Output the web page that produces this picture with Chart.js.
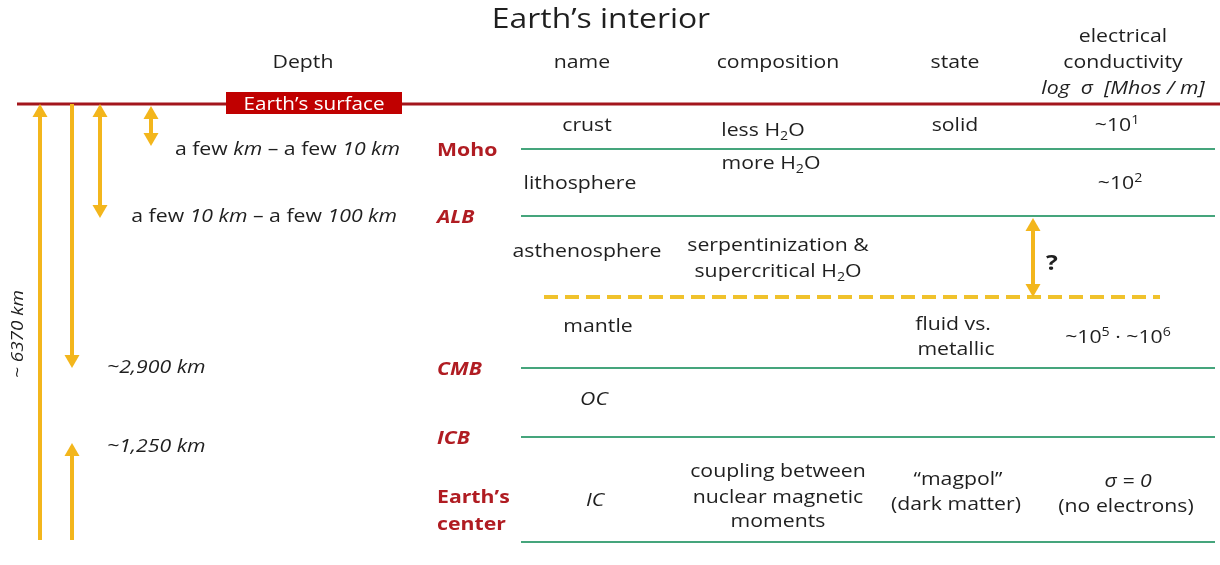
<!DOCTYPE html>
<html>
<head>
<meta charset="utf-8">
<title>Earth's interior</title>
<script src="https://cdn.jsdelivr.net/npm/chart.js@4"></script>
<style>
  body { margin: 0; background: #fff; }
  #wrap { width: 1220px; height: 565px; position: relative; }
</style>
</head>
<body>
<div id="wrap"><canvas id="myChart"></canvas></div>
<script>
// depth rows of the diagram (0 = top of picture, 565 = bottom)
const surfaceLevel = 104;
const boundaryNames = ['Moho', 'ALB', 'CMB', 'ICB', 'Earth\u2019s|center'];
const boundaryLevels = [149, 216, 368, 437, 542];
const boundaryItalic = [false, true, true, true, false];
const transitionLevel = 297; // uncertain boundary (dashed)

const headers = ['Depth', 'name', 'composition', 'state'];
const headerX = [303, 582, 778, 955];
const condHeader = ['electrical', 'conductivity', '*log  σ  [Mhos / m]*'];
const condHeaderLevels = [36, 62, 88];

const layerNames = ['crust', 'lithosphere', 'asthenosphere', 'mantle', '*OC*', '*IC*'];
const layerX = [587, 580, 587, 598, 594, 595];
const layerLevels = [125, 183, 251, 326, 399, 500];

const compLines = ['less H_{2}O', 'more H_{2}O', 'serpentinization &', 'supercritical H_{2}O',
  'coupling between', 'nuclear magnetic', 'moments'];
const compX = [763, 771, 778, 778, 778, 778, 778];
const compLevels = [130, 163, 245, 271, 471, 497, 521];

const stateLines = ['solid', 'fluid vs.', 'metallic', '\u201cmagpol\u201d', '(dark matter)'];
const stateX = [955, 953, 956, 958, 956];
const stateLevels = [125, 324, 349, 479, 504];

const condLines = ['~10^{1}', '~10^{2}', '~10^{5} \u00b7 ~10^{6}', '*σ = 0*', '(no electrons)'];
const condX = [1117, 1120, 1118, 1128, 1126];
const condLevels = [125, 183, 337, 481, 506];

const depthLabels = ['a few *km* \u2013 a few *10 km*', 'a few *10 km* \u2013 a few *100 km*',
  '*~2,900 km*', '*~1,250 km*'];
const depthLabelX = [400, 397, 107, 107];
const depthLabelAlign = ['right', 'right', 'left', 'left'];
const depthLabelLevels = [149, 216, 367, 446];

// depth arrows: x, from, to, heads
const arrowX = [40, 72, 100, 151, 72, 1033];
const arrowFrom = [540, 104, 104, 106, 540, 218];
const arrowTo = [104, 368, 218, 146, 443, 297];
const arrowBoth = [false, false, true, true, false, true];

const FONT = '"Open Sans", sans-serif';
const STRETCH = 1.18; // the lettering of the original is wide
const RED = '#b01c22';
const GREEN = '#45a57c';
const YELLOW = '#f3b61c';
const TEXT = '#1f1f1f';

const lineStart = 521;
const lineEnd = 1215;

const parseRich = (str) => {
  const parts = [];
  let italic = false;
  let buf = '';
  let i = 0;
  const push = () => {
    if (buf) parts.push({ t: buf, italic, mode: 'normal' });
    buf = '';
  };
  while (i < str.length) {
    const c = str[i];
    if (c === '*') {
      push();
      italic = !italic;
      i++;
    } else if ((c === '_' || c === '^') && str[i + 1] === '{') {
      push();
      const end = str.indexOf('}', i);
      parts.push({ t: str.slice(i + 2, end), italic, mode: c === '_' ? 'sub' : 'sup' });
      i = end + 1;
    } else {
      buf += c;
      i++;
    }
  }
  push();
  return parts;
};

const drawRich = (ctx, str, x, y, opts = {}) => {
  const { size = 18, align = 'center', color = TEXT, bold = false, italic = false } = opts;
  const parts = parseRich(str);
  const fontFor = (p) => {
    const s = p.mode === 'normal' ? size : Math.round(size * 0.66);
    return `${p.italic !== italic ? 'italic ' : ''}${bold ? 'bold ' : ''}${s}px ${FONT}`;
  };
  let total = 0;
  parts.forEach((p) => {
    ctx.font = fontFor(p);
    p.w = ctx.measureText(p.t).width * STRETCH;
    total += p.w;
  });
  let cx = align === 'center' ? x - total / 2 : align === 'right' ? x - total : x;
  const base = y + size * 0.36;
  ctx.fillStyle = color;
  ctx.textAlign = 'left';
  ctx.textBaseline = 'alphabetic';
  parts.forEach((p) => {
    ctx.font = fontFor(p);
    let by = base;
    if (p.mode === 'sub') by = base + size * 0.22;
    if (p.mode === 'sup') by = base - size * 0.4;
    ctx.save();
    ctx.translate(cx, by);
    ctx.scale(STRETCH, 1);
    ctx.fillText(p.t, 0, 0);
    ctx.restore();
    cx += p.w;
  });
};

const drawHead = (ctx, x, tipY, dir) => {
  // dir = -1 pointing up, 1 pointing down
  ctx.beginPath();
  ctx.moveTo(x, tipY);
  ctx.lineTo(x - 7.5, tipY - dir * 13);
  ctx.lineTo(x + 7.5, tipY - dir * 13);
  ctx.closePath();
  ctx.fill();
};

const diagramText = {
  id: 'diagramText',
  afterDatasetsDraw(chart) {
    const { ctx } = chart;
    const { x, y } = chart.scales;
    ctx.save();

    // arrows
    ctx.fillStyle = YELLOW;
    ctx.strokeStyle = YELLOW;
    ctx.lineWidth = 4;
    arrowX.forEach((ax, i) => {
      const px = x.getPixelForValue(ax);
      const p0 = y.getPixelForValue(arrowFrom[i]);
      const p1 = y.getPixelForValue(arrowTo[i]);
      const dir = p1 > p0 ? 1 : -1;
      ctx.beginPath();
      ctx.moveTo(px, arrowBoth[i] ? p0 + dir * 10 : p0);
      ctx.lineTo(px, p1 - dir * 10);
      ctx.stroke();
      drawHead(ctx, px, p1, dir);
      if (arrowBoth[i]) drawHead(ctx, px, p0, -dir);
    });

    // title and headers
    drawRich(ctx, 'Earth\u2019s interior', x.getPixelForValue(601), y.getPixelForValue(18), { size: 27 });
    headers.forEach((h, i) => {
      drawRich(ctx, h, x.getPixelForValue(headerX[i]), y.getPixelForValue(62), { size: 18 });
    });
    condHeader.forEach((h, i) => {
      drawRich(ctx, h, x.getPixelForValue(1123), y.getPixelForValue(condHeaderLevels[i]), { size: 18 });
    });

    // surface box
    const bx0 = x.getPixelForValue(226);
    const bx1 = x.getPixelForValue(402);
    const by0 = y.getPixelForValue(surfaceLevel - 12);
    const by1 = y.getPixelForValue(surfaceLevel + 10);
    ctx.fillStyle = '#c00000';
    ctx.fillRect(bx0, by0, bx1 - bx0, by1 - by0);
    drawRich(ctx, 'Earth\u2019s surface', (bx0 + bx1) / 2, y.getPixelForValue(surfaceLevel), { size: 17.5, color: '#fff' });

    // boundary names
    boundaryNames.forEach((b, i) => {
      const lines = b.split('|');
      lines.forEach((l, j) => {
        const ly = lines.length > 1 ? boundaryLevels[i] - 45 + j * 27 : boundaryLevels[i] + 1;
        drawRich(ctx, l, x.getPixelForValue(437), y.getPixelForValue(ly), {
          size: 18, align: 'left', color: RED, bold: true, italic: boundaryItalic[i],
        });
      });
    });

    depthLabels.forEach((d, i) => {
      drawRich(ctx, d, x.getPixelForValue(depthLabelX[i]), y.getPixelForValue(depthLabelLevels[i]), {
        size: 18, align: depthLabelAlign[i],
      });
    });

    layerNames.forEach((n, i) => {
      drawRich(ctx, n, x.getPixelForValue(layerX[i]), y.getPixelForValue(layerLevels[i]), { size: 18 });
    });
    compLines.forEach((c, i) => {
      drawRich(ctx, c, x.getPixelForValue(compX[i]), y.getPixelForValue(compLevels[i]), { size: 18 });
    });
    stateLines.forEach((s, i) => {
      drawRich(ctx, s, x.getPixelForValue(stateX[i]), y.getPixelForValue(stateLevels[i]), { size: 18 });
    });
    condLines.forEach((c, i) => {
      drawRich(ctx, c, x.getPixelForValue(condX[i]), y.getPixelForValue(condLevels[i]), { size: 18 });
    });

    drawRich(ctx, '?', x.getPixelForValue(1052), y.getPixelForValue(262), { size: 21, bold: true });

    // total radius, rotated
    ctx.translate(x.getPixelForValue(17), y.getPixelForValue(334));
    ctx.rotate(-Math.PI / 2);
    drawRich(ctx, '*~ 6370 km*', 0, 0, { size: 16 });

    ctx.restore();
  },
};

const lineSet = (y0, x0, x1, color, width, dash) => ({
  data: [{ x: x0, y: y0 }, { x: x1, y: y0 }],
  showLine: true,
  borderColor: color,
  borderWidth: width,
  borderDash: dash || [],
  borderCapStyle: 'butt',
  pointRadius: 0,
});

const datasets = [
  lineSet(surfaceLevel, 17, 1220, '#a3161c', 3),
  ...boundaryLevels.map((lv) => lineSet(lv, lineStart, lineEnd, GREEN, 2)),
  lineSet(transitionLevel, 544, 1160, '#f0c22c', 4, [14, 7]),
];

const myChart = new Chart(document.getElementById('myChart'), {
  type: 'scatter',
  data: { datasets },
  options: {
    responsive: true,
    maintainAspectRatio: false,
    animation: false,
    layout: { padding: 0 },
    plugins: { legend: { display: false }, tooltip: { enabled: false } },
    scales: {
      x: { type: 'linear', min: 0, max: 1220, display: false },
      y: { type: 'linear', min: 0, max: 565, reverse: true, display: false },
    },
  },
  plugins: [diagramText],
});
</script>
</body>
</html>
